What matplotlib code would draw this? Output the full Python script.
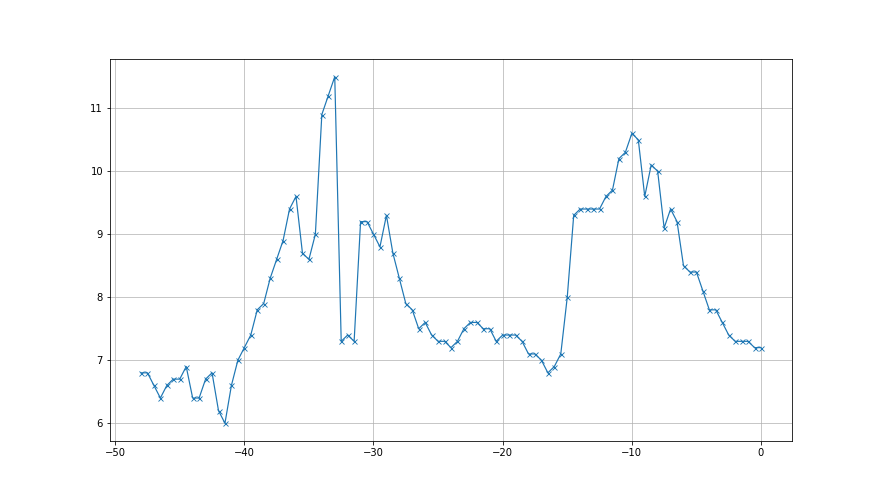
import numpy as np
import matplotlib
matplotlib.use("Agg")
import matplotlib.pyplot as plt

# x runs from -48 to 0 in half steps
x_start = -48.0
x_step = 0.5
values = [
    6.8, 6.8, 6.6, 6.4, 6.6, 6.7, 6.7, 6.9, 6.4, 6.4,
    6.7, 6.8, 6.2, 6.0, 6.6, 7.0, 7.2, 7.4, 7.8, 7.9,
    8.3, 8.6, 8.9, 9.4, 9.6, 8.7, 8.6, 9.0, 10.9, 11.2,
    11.5, 7.3, 7.4, 7.3, 9.2, 9.2, 9.0, 8.8, 9.3, 8.7,
    8.3, 7.9, 7.8, 7.5, 7.6, 7.4, 7.3, 7.3, 7.2, 7.3,
    7.5, 7.6, 7.6, 7.5, 7.5, 7.3, 7.4, 7.4, 7.4, 7.3,
    7.1, 7.1, 7.0, 6.8, 6.9, 7.1, 8.0, 9.3, 9.4, 9.4,
    9.4, 9.4, 9.6, 9.7, 10.2, 10.3, 10.6, 10.5, 9.6, 10.1,
    10.0, 9.1, 9.4, 9.2, 8.5, 8.4, 8.4, 8.1, 7.8, 7.8,
    7.6, 7.4, 7.3, 7.3, 7.3, 7.2, 7.2,
]
xs = x_start + x_step * np.arange(len(values))

fig, ax = plt.subplots(figsize=(880 / 72, 495 / 72), dpi=72)
ax.plot(xs, values, marker="x", linewidth=1.2, markersize=5, markeredgewidth=0.9)
ax.grid(True, linewidth=0.7)

fig.savefig("out.png", dpi=72)
